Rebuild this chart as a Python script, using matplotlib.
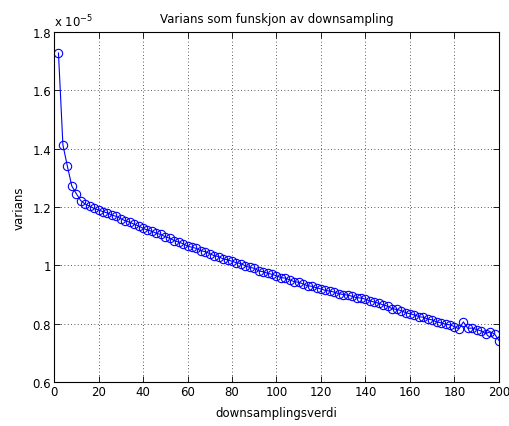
import matplotlib
matplotlib.use("Agg")
import matplotlib.pyplot as plt
from matplotlib.ticker import FuncFormatter

plt.rcParams['font.family'] = ['DejaVu Sans']

# downsampling factor
downsampling = list(range(2, 201, 2))

# variance, in units of 1e-5
varians = [
    1.728, 1.413, 1.340, 1.272, 1.246, 1.222, 1.210, 1.203, 1.195, 1.190,
    1.184, 1.180, 1.172, 1.168, 1.160, 1.153, 1.148, 1.141, 1.135, 1.127,
    1.121, 1.117, 1.110, 1.106, 1.098, 1.093, 1.085, 1.080, 1.074, 1.066,
    1.062, 1.058, 1.050, 1.047, 1.040, 1.033, 1.030, 1.022, 1.019, 1.014,
    1.009, 1.006, 0.998, 0.993, 0.990, 0.981, 0.978, 0.973, 0.969, 0.964,
    0.958, 0.956, 0.950, 0.944, 0.942, 0.936, 0.930, 0.928, 0.923, 0.919,
    0.914, 0.912, 0.908, 0.903, 0.900, 0.898, 0.894, 0.889, 0.888, 0.884,
    0.878, 0.874, 0.870, 0.864, 0.860, 0.851, 0.849, 0.845, 0.838, 0.834,
    0.830, 0.824, 0.822, 0.816, 0.813, 0.806, 0.803, 0.798, 0.796, 0.790,
    0.782, 0.806, 0.784, 0.785, 0.780, 0.775, 0.766, 0.772, 0.765, 0.742,
]
scale = 1e-5

xticks = list(range(0, 201, 20))
yticks = [0.6, 0.8, 1.0, 1.2, 1.4, 1.6, 1.8]

fig = plt.figure(figsize=(5.1, 4.27), dpi=100)
ax = fig.add_axes([0.1059, 0.1030, 0.8725, 0.8197])

ax.plot(downsampling, [v * scale for v in varians], color=(0, 0, 1), lw=0.8,
        marker='o', markersize=6, markerfacecolor='none',
        markeredgecolor=(0, 0, 1), markeredgewidth=0.8)

ax.set_xlim(0, 200)
ax.set_ylim(0.6 * scale, 1.8 * scale)
ax.set_xticks(xticks)
ax.set_yticks([t * scale for t in yticks])
ax.yaxis.set_major_formatter(FuncFormatter(lambda v, p: f"{v / scale:g}"))

ax.grid(True, color='#222222', linestyle=(0, (1, 3)), linewidth=0.6)
ax.tick_params(direction='in', top=True, right=True, length=4, width=0.6,
               labelsize=8.5, colors='black', pad=2)
for s in ax.spines.values():
    s.set_linewidth(0.8)

ax.set_title("Varians som funskjon av downsampling", fontsize=8.5, pad=7)
ax.set_xlabel("downsamplingsverdi", fontsize=8.5, labelpad=6)
ax.set_ylabel("varians", fontsize=8.5, labelpad=5)
ax.text(0.0, 1.008, r"x 10$^{-5}$", transform=ax.transAxes, fontsize=8.5,
        ha='left', va='bottom')

fig.savefig("out.png", dpi=100)
